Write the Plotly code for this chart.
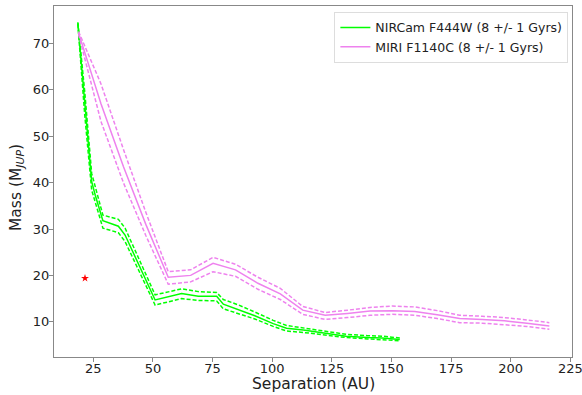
import plotly.graph_objects as go

# NIRCam F444W (8 +/- 1 Gyr)
nir_sep = [18.5, 21.4, 24.3, 25.8, 29.0, 35.5, 38.3, 50.9, 56.5, 62.0, 69.0, 76.7, 79.5, 86.0, 92.7, 100.4, 106.0, 113.0, 124.0, 131.0, 140.0, 146.0, 153.5]
nir_mass = [74.4, 57.0, 40.2, 37.3, 31.8, 30.6, 28.7, 14.7, 15.4, 16.1, 15.5, 15.5, 13.8, 12.6, 11.3, 9.6, 8.6, 8.2, 7.5, 6.9, 6.6, 6.5, 6.2]
nir_upper = [74.6, 59.5, 42.0, 39.0, 33.0, 32.1, 30.2, 15.8, 16.4, 17.1, 16.5, 16.3, 14.8, 13.6, 12.1, 10.3, 9.2, 8.7, 7.9, 7.3, 7.0, 6.9, 6.5]
nir_lower = [74.2, 54.5, 38.4, 35.6, 30.2, 29.2, 27.3, 13.6, 14.3, 15.0, 14.6, 14.5, 12.8, 11.7, 10.6, 9.0, 8.0, 7.7, 7.1, 6.6, 6.3, 6.1, 5.9]

# MIRI F1140C (8 +/- 1 Gyr)
miri_sep = [18.8, 28.2, 37.6, 47.0, 56.4, 65.8, 75.2, 84.6, 94.0, 103.4, 112.8, 122.2, 131.6, 141.0, 150.4, 159.8, 169.2, 178.6, 188.0, 197.4, 206.8, 216.2]
miri_mass = [72.3, 57.0, 43.5, 31.0, 19.6, 20.0, 22.6, 21.2, 18.3, 16.0, 12.5, 11.4, 11.8, 12.3, 12.4, 12.2, 11.5, 10.7, 10.5, 10.2, 9.7, 9.1]
miri_upper = [72.6, 61.3, 47.2, 33.6, 20.8, 21.2, 23.9, 22.4, 19.6, 17.2, 13.3, 12.0, 12.5, 13.1, 13.4, 13.2, 12.4, 11.4, 11.2, 10.9, 10.4, 9.8]
miri_lower = [72.0, 53.2, 40.0, 28.6, 18.1, 18.6, 20.8, 19.8, 17.0, 14.8, 11.6, 10.5, 10.9, 11.4, 11.6, 11.4, 10.7, 9.8, 9.7, 9.4, 9.0, 8.4]

# companion
comp_sep = [21.5]
comp_mass = [19.4]

x_ticks = [25, 50, 75, 100, 125, 150, 175, 200, 225]
y_ticks = [10, 20, 30, 40, 50, 60, 70]

GREEN = "#00ff00"
VIOLET = "#ee82ee"

fig = go.Figure()
fig.add_trace(go.Scatter(x=nir_sep, y=nir_mass, mode="lines", line=dict(color=GREEN, width=1.5),
                         name="NIRCam F444W (8 +/- 1 Gyrs)"))
fig.add_trace(go.Scatter(x=nir_sep, y=nir_upper, mode="lines", line=dict(color=GREEN, width=1.5, dash="4px,2px"),
                         showlegend=False))
fig.add_trace(go.Scatter(x=nir_sep, y=nir_lower, mode="lines", line=dict(color=GREEN, width=1.5, dash="4px,2px"),
                         showlegend=False))
fig.add_trace(go.Scatter(x=miri_sep, y=miri_mass, mode="lines", line=dict(color=VIOLET, width=1.5),
                         name="MIRI F1140C (8 +/- 1 Gyrs)"))
fig.add_trace(go.Scatter(x=miri_sep, y=miri_upper, mode="lines", line=dict(color=VIOLET, width=1.5, dash="4px,2px"),
                         showlegend=False))
fig.add_trace(go.Scatter(x=miri_sep, y=miri_lower, mode="lines", line=dict(color=VIOLET, width=1.5, dash="4px,2px"),
                         showlegend=False))
fig.add_trace(go.Scatter(x=comp_sep, y=comp_mass, mode="markers",
                         marker=dict(symbol="star", size=6, color="red"), showlegend=False))

axis_common = dict(showgrid=False, zeroline=False, showline=True, linecolor="#888888", linewidth=1,
                   mirror=True, ticks="outside", ticklen=4, tickcolor="#888888", automargin=False,
                   ticklabeloverflow="allow",
                   tickfont=dict(family="DejaVu Sans", size=13, color="#222222"))

L, R, T, B = 54, 10, 6, 38
W, H = 582, 395
pw, ph = W - L - R, H - T - B

fig.update_layout(
    width=W, height=H,
    margin=dict(l=L, r=R, t=T, b=B),
    paper_bgcolor="white", plot_bgcolor="white",
    font=dict(family="DejaVu Sans", color="#222222"),
    xaxis=dict(range=[8.5, 225.7], tickvals=x_ticks, ticklabelstandoff=-5, **axis_common),
    yaxis=dict(range=[2.4, 78.1], tickvals=y_ticks, ticklabelstandoff=-3, **axis_common),
    legend=dict(x=0.993, y=0.983, xanchor="right", yanchor="top",
                bgcolor="white", bordercolor="#dddddd", borderwidth=1,
                font=dict(family="DejaVu Sans", size=12.5, color="#222222"),
                tracegroupgap=0, itemwidth=30),
    annotations=[
        dict(text="Separation (AU)", xref="paper", yref="paper", x=(313 - L) / pw, y=-(384 - (T + ph)) / ph,
             xanchor="center", yanchor="middle", showarrow=False,
             font=dict(family="DejaVu Sans", size=15.5, color="#222222")),
        dict(text="Mass (M<sub><i>JUP</i></sub>)", xref="paper", yref="paper", x=-(L - 17) / pw,
             y=(T + ph - 188) / ph, xanchor="center", yanchor="middle", showarrow=False, textangle=-90,
             font=dict(family="DejaVu Sans", size=15.5, color="#222222")),
    ],
)

fig.write_html("out.html")
